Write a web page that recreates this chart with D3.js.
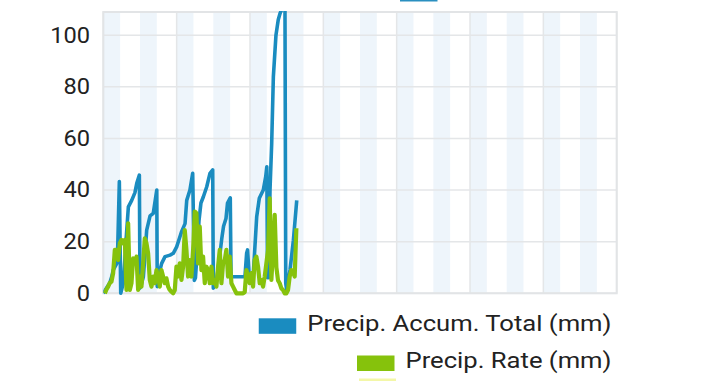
<!DOCTYPE html>
<html><head><meta charset="utf-8">
<script src="https://cdn.jsdelivr.net/npm/d3@7"></script>
<style>html,body{margin:0;padding:0;background:#fff;}svg{display:block;}</style>
</head><body>
<script>
// ---- data ----
const yTicks = [0, 20, 40, 60, 80, 100];
const totalDays = 14;           // x axis span (days)
const nightHours = 11;          // shaded part of each day (hours)
const gridEveryHours = 48;
// Precip. Accum. Total (mm): [hour, value]
const accumTotal = [[0,0],[4.2,4],[5.5,6.4],[6.5,9],[7.7,10.3],[9.2,12],[10.5,43.3],[11.4,0],[13.1,4],[14.9,20.6],[16.4,33.5],[18.6,36],[20.7,39],[21.9,42.6],[23.6,45.8],[24.0,2],[24.7,3],[26.2,6.4],[27.3,15],[28.4,24.5],[30.6,30],[32.7,31],[35.0,40],[35.3,2.6],[36.0,6.4],[38.2,11.6],[40.4,14.2],[43.7,14.8],[45.8,15.5],[48.0,18],[50.2,22],[51.3,24],[53.5,27],[54.6,36],[56.7,40],[58.5,46.5],[59.6,5],[60.3,6],[61.7,18],[62.6,28],[63.9,35],[65.5,37.4],[67.7,41.3],[69.8,46.5],[71.6,47.8],[72.0,2],[73.1,3],[74.4,6],[76.1,14],[77.5,21],[78.7,26],[80.3,29],[81.3,35],[83.1,37],[83.6,6.4],[92.7,6.4],[93.8,15.5],[94.4,16.8],[95.4,7.7],[95.9,5],[98.2,7.7],[100.4,29.7],[102.1,36.8],[104.7,40],[106.3,45.2],[107.0,49],[107.5,6],[108.1,6],[109.1,40],[110.2,58],[111.3,84],[113.0,100],[114.5,106],[115.7,108.5],[116.8,110],[118.9,111],[119.4,3.9],[120.0,1.3],[122.2,9],[124.4,20.6],[126.6,36]];
// Precip. Rate (mm): readings every ~65 min starting at hour 1.0
const rateStartHour = 1.0;
const rateStepHours = 1.09;
const rateValues = [0,1.5,2.6,4,4.5,7.8,16.8,16.8,12.9,19.4,20.7,19.4,20.7,1.3,27.1,1.3,3.9,13.5,11.6,14.2,1.3,6.5,2.6,11.6,21.3,19.4,15.5,5.2,2.6,6.5,3.9,9.0,6.5,2.6,9.0,6.5,3.9,5.8,2.6,1.3,0.6,0,1.3,10.3,6.5,11.6,5.2,10.3,24.5,16.8,6.5,12.9,6.5,16.8,31.7,31,11.6,25.8,9.0,14.2,3.9,10.3,9.0,3.9,10.3,3.9,5.2,2.6,10.3,16.8,3.9,11.6,12.9,16.8,6.5,14.2,3.9,2.6,1.3,0,0,0,0,0,0.5,9.0,6.5,3.9,7.8,2.6,12.9,14.2,10.3,3.9,5.2,2.6,6.5,11.6,16.8,36.8,5.2,16.8,30.4,10,5,3.9,1.9,1.3,0,0,1.3,6.5,9.0,8.4,6.5,25.2];
const seriesNames = ["Precip. Accum. Total (mm)", "Precip. Rate (mm)"];
const seriesColors = ["#1a8cc0", "#86c20c"];

// ---- layout ----
const W = 720, H = 381;
const plot = {left: 103.3, right: 616.7, top: 12, bottom: 293.3};
const svg = d3.select("body").append("svg").attr("width", W).attr("height", H);

const x = d3.scaleLinear().domain([0, totalDays * 24]).range([plot.left, plot.right]);
const y = d3.scaleLinear().domain([0, 109]).range([plot.bottom, plot.top]);

// night bands
svg.append("g").selectAll("rect").data(d3.range(totalDays)).join("rect")
  .attr("x", d => x(d * 24)).attr("width", d => x(d * 24 + nightHours) - x(d * 24))
  .attr("y", plot.top).attr("height", plot.bottom - plot.top)
  .attr("fill", "#eef5fb");

// gridlines
const gridColor = "#e4e6e8";
svg.append("g").selectAll("line").data(yTicks).join("line")
  .attr("x1", plot.left).attr("x2", plot.right)
  .attr("y1", d => y(d)).attr("y2", d => y(d))
  .attr("stroke", gridColor).attr("stroke-width", 1.5);
svg.append("g").selectAll("line").data(d3.range(0, totalDays * 24 + 1, gridEveryHours)).join("line")
  .attr("x1", d => x(d)).attr("x2", d => x(d))
  .attr("y1", plot.top).attr("y2", plot.bottom)
  .attr("stroke", gridColor).attr("stroke-width", 1.5);
svg.append("rect").attr("x", plot.left).attr("y", plot.top)
  .attr("width", plot.right - plot.left).attr("height", plot.bottom - plot.top)
  .attr("fill", "none").attr("stroke", "#e2e4e6").attr("stroke-width", 2);

// y axis
const yAxis = d3.axisLeft(y).tickValues(yTicks).tickSize(0).tickPadding(12);
const ga = svg.append("g").attr("transform", `translate(${plot.left},0)`).call(yAxis);
ga.select(".domain").remove();
ga.selectAll("text").attr("font-family", "Roboto").attr("font-size", 21.5).attr("fill", "#222")
  .attr("transform", "scale(1.1,1)");

// clip
svg.append("clipPath").attr("id", "clip").append("rect")
  .attr("x", plot.left).attr("y", plot.top - 1)
  .attr("width", plot.right - plot.left).attr("height", plot.bottom - plot.top + 6);

const lineG = svg.append("g").attr("clip-path", "url(#clip)");
const line = d3.line().x(d => x(d[0])).y(d => y(d[1]));
lineG.append("path").datum(accumTotal).attr("d", line)
  .attr("fill", "none").attr("stroke", seriesColors[0]).attr("stroke-width", 3.6).attr("stroke-linejoin", "round");
const rate = rateValues.map((v, i) => [rateStartHour + i * rateStepHours, v]);
lineG.append("path").datum(rate).attr("d", line)
  .attr("fill", "none").attr("stroke", seriesColors[1]).attr("stroke-width", 4.2).attr("stroke-linejoin", "round");

// legend
const legendRight = 611.5;
const sx = 1.165;
const lg = svg.append("g");
const items = [{name: seriesNames[0], color: seriesColors[0], base: 330.7, top: 318.3},
               {name: seriesNames[1], color: seriesColors[1], base: 368.3, top: 355.5}];
items.forEach(it => {
  const t = lg.append("text").attr("x", 0).attr("y", it.base)
    .attr("transform", `translate(${legendRight},0) scale(${sx},1)`)
    .attr("text-anchor", "end").attr("font-family", "Roboto").attr("font-size", 22).attr("fill", "#222")
    .text(it.name);
  const w = t.node().getComputedTextLength() * sx;
  lg.append("rect").attr("x", legendRight - w - 48.5).attr("y", it.top)
    .attr("width", 37.5).attr("height", 15.5).attr("fill", it.color);
});
// partially visible neighbouring legend swatches
lg.append("rect").attr("x", 400).attr("y", -14).attr("width", 37.5).attr("height", 15.5).attr("fill", "#2a8fc0");
lg.append("rect").attr("x", 359).attr("y", 378.5).attr("width", 37).attr("height", 15).attr("fill", "#f3f7a8");
</script>
</body></html>
